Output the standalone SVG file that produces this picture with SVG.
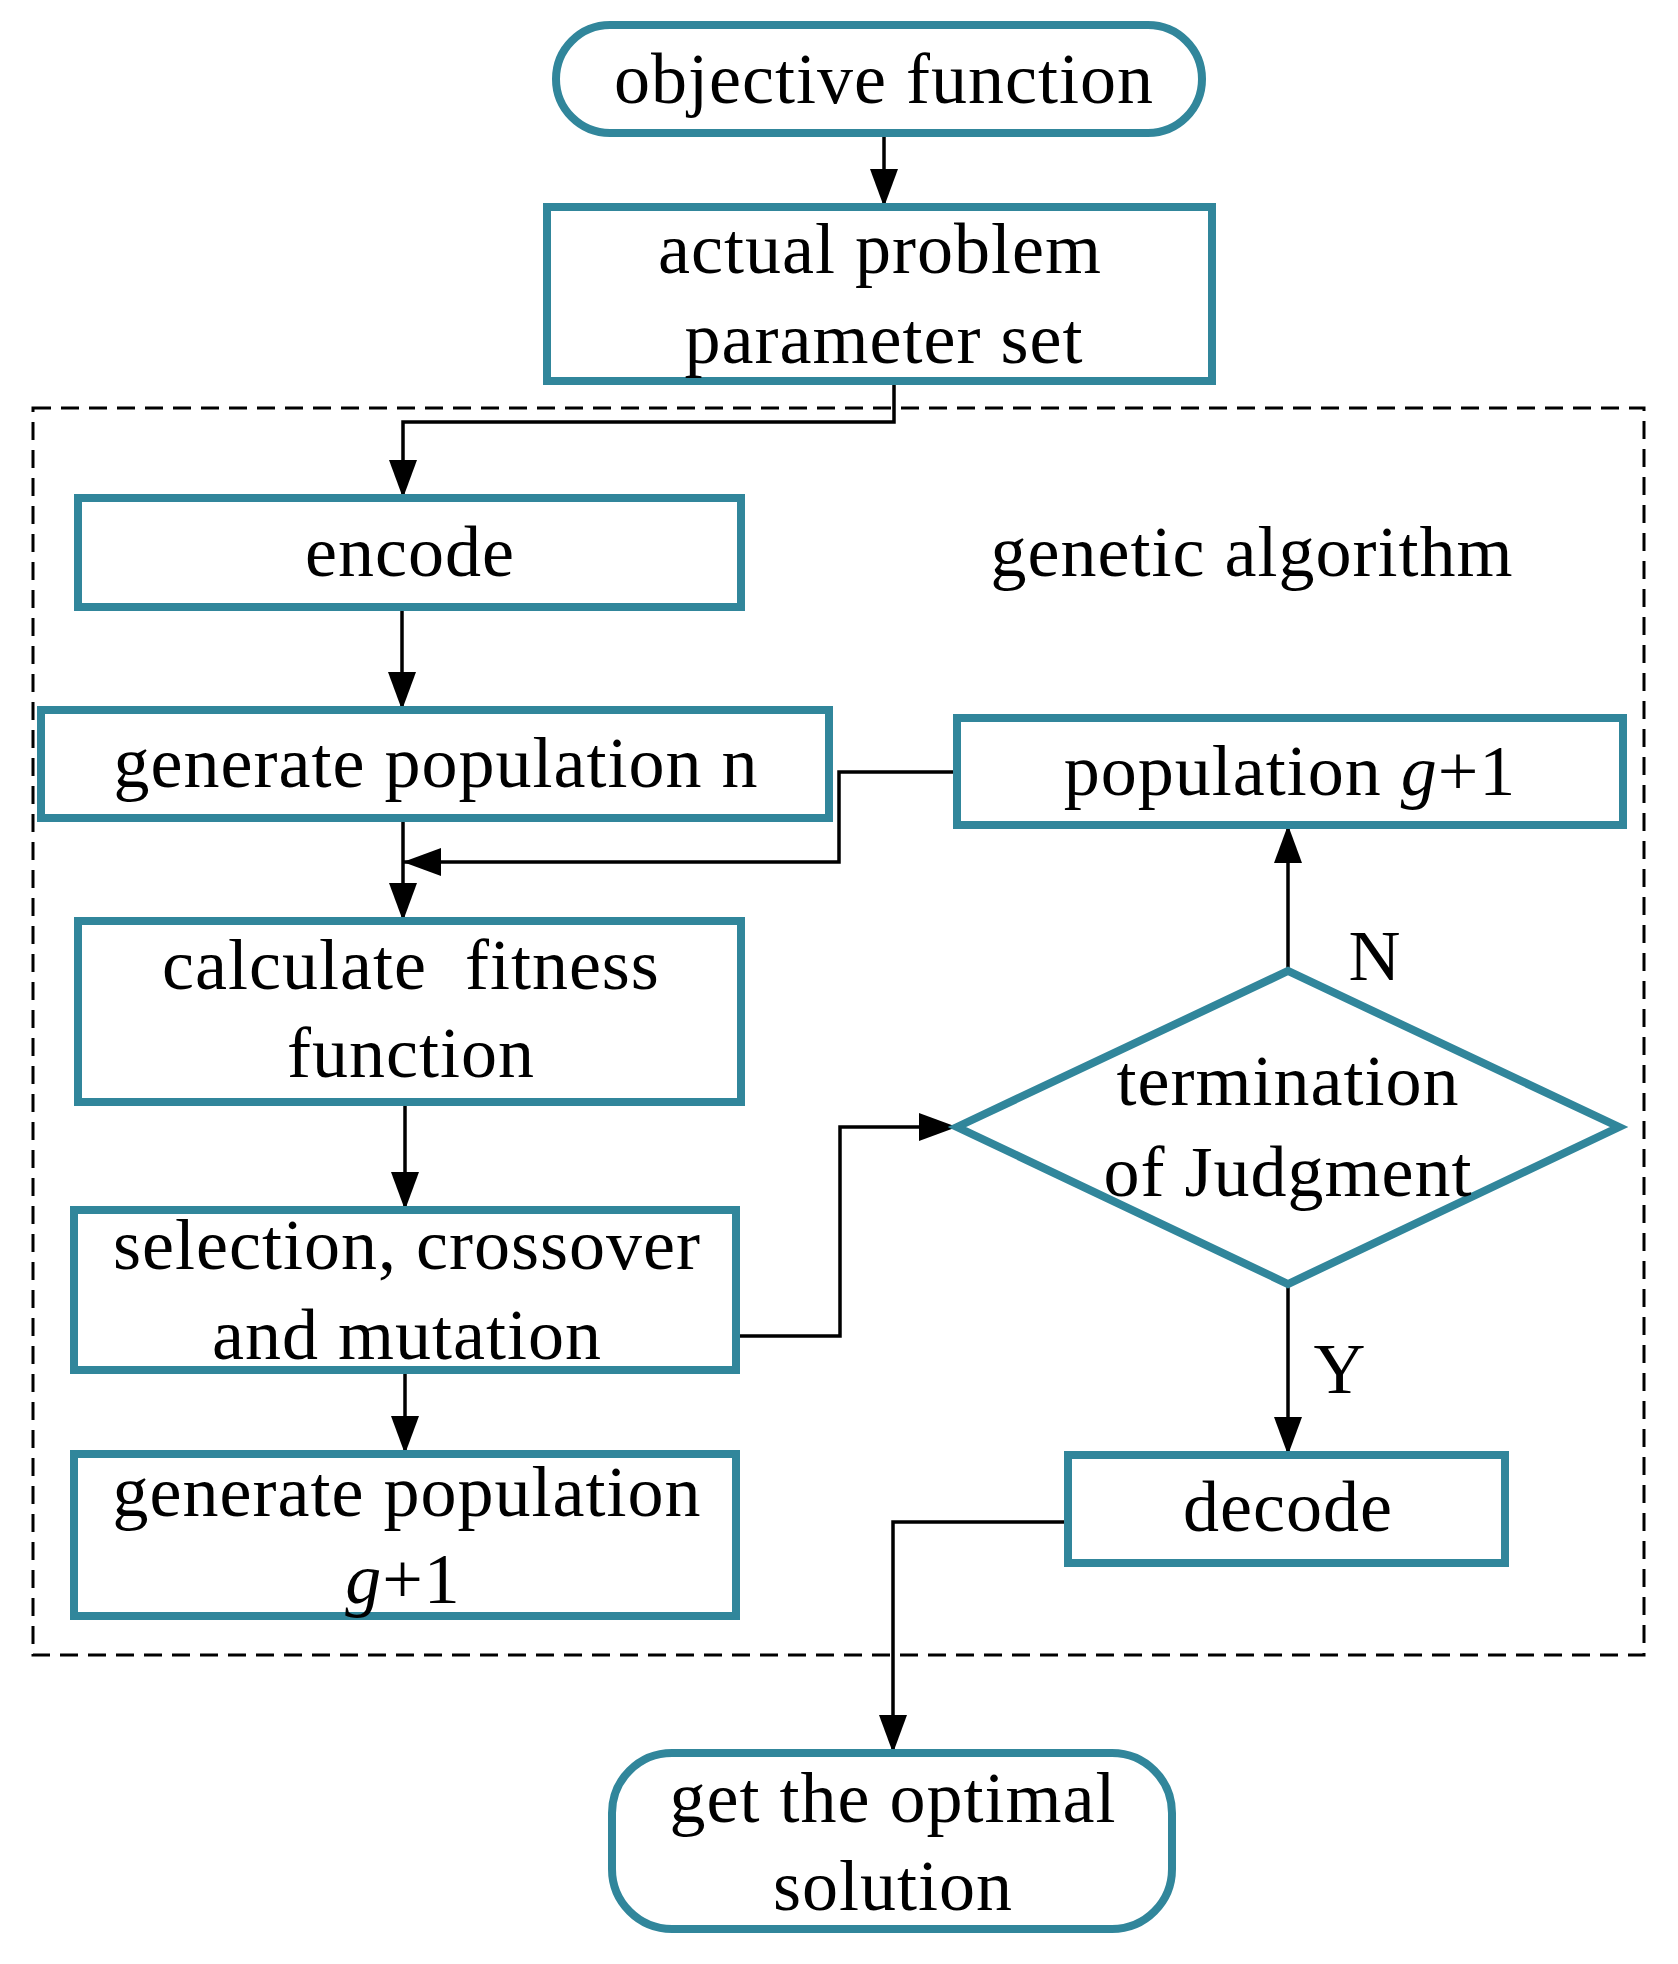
<svg xmlns="http://www.w3.org/2000/svg" width="1678" height="1964" viewBox="0 0 1678 1964">
<style>
.n{fill:#fff;stroke:#31869b;stroke-width:8}
.t{font-family:"Liberation Serif","Times New Roman",serif;font-size:72px;letter-spacing:1px;text-anchor:middle;fill:#000;white-space:pre}
.c{fill:none;stroke:#000;stroke-width:3.5}
</style>
<defs><marker id="b" viewBox="0 0 10 10" refX="10" refY="5" markerWidth="38" markerHeight="28" markerUnits="userSpaceOnUse" orient="auto" preserveAspectRatio="none"><path d="M0,0 L10,5 L0,10 Z" fill="#000"/></marker></defs>
<rect fill="#fff" width="1678" height="1964"/>
<rect x="33" y="408" width="1611" height="1247" fill="none" stroke="#000" stroke-width="3" stroke-dasharray="18,10"/>
<text class="t" x="1252" y="576">genetic algorithm</text>
<g id="connectors">
<path class="c" d="M884,133 V207" marker-end="url(#b)"/>
<path class="c" d="M894,381 V422 H403 V498" marker-end="url(#b)"/>
<path class="c" d="M402,607 V710" marker-end="url(#b)"/>
<path class="c" d="M403,818 V921" marker-end="url(#b)"/>
<path class="c" d="M957,772 H839 V862 H403" marker-end="url(#b)"/>
<path class="c" d="M405,1102 V1210" marker-end="url(#b)"/>
<path class="c" d="M736,1336 H840 V1127 H957" marker-end="url(#b)"/>
<path class="c" d="M405,1370 V1454" marker-end="url(#b)"/>
<path class="c" d="M1288,971 V825" marker-end="url(#b)"/>
<path class="c" d="M1288,1284 V1455" marker-end="url(#b)"/>
<path class="c" d="M1068,1522 H893 V1753" marker-end="url(#b)"/>
<text class="t" x="1375" y="980">N</text>
<text class="t" x="1340" y="1393">Y</text>
</g>
<g id="objective"><rect class="n" x="556" y="25" width="646" height="108" rx="54"/><text class="t" x="884" y="103">objective function</text></g>
<g id="actual"><rect class="n" x="547" y="207" width="665" height="174"/><text class="t" x="880" y="273">actual problem</text><text class="t" x="884" y="363">parameter set</text></g>
<g id="encode"><rect class="n" x="78" y="498" width="663" height="109"/><text class="t" x="410" y="576">encode</text></g>
<g id="genpopn"><rect class="n" x="41" y="710" width="788" height="108"/><text class="t" x="436" y="787">generate population n</text></g>
<g id="popg1"><rect class="n" x="957" y="718" width="666" height="107"/><text class="t" x="1290" y="795">population <tspan font-style="italic">g</tspan>+1</text></g>
<g id="calc"><rect class="n" x="78" y="921" width="663" height="181"/><text class="t" x="411" y="989" xml:space="preserve">calculate  fitness</text><text class="t" x="411" y="1077">function</text></g>
<g id="term"><polygon class="n" points="957,1127 1288,971 1619,1127 1288,1284"/><text class="t" x="1288" y="1105">termination</text><text class="t" x="1288" y="1196">of Judgment</text></g>
<g id="sel"><rect class="n" x="74" y="1210" width="662" height="160"/><text class="t" x="407" y="1269">selection, crossover</text><text class="t" x="407" y="1359">and mutation</text></g>
<g id="genpopg"><rect class="n" x="74" y="1454" width="662" height="162"/><text class="t" x="407" y="1516">generate population</text><text class="t" x="403" y="1603"><tspan font-style="italic">g</tspan>+1</text></g>
<g id="decode"><rect class="n" x="1068" y="1455" width="437" height="108"/><text class="t" x="1288" y="1531">decode</text></g>
<g id="optimal"><rect class="n" x="612" y="1753" width="560" height="176" rx="60"/><text class="t" x="893" y="1822">get the optimal</text><text class="t" x="893" y="1910">solution</text></g>
</svg>
